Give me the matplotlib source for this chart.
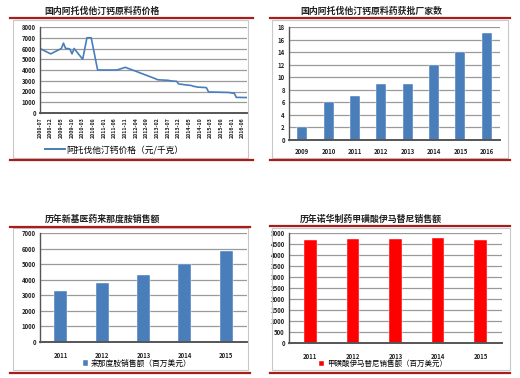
import matplotlib
matplotlib.use("Agg")
import matplotlib.pyplot as plt
from matplotlib.patches import Rectangle
from matplotlib.lines import Line2D
import numpy as np

plt.rcParams['font.family'] = ['Noto Sans CJK SC', 'DejaVu Sans']

# ---------------- data ----------------
price_title = "国内阿托伐他汀钙原料药价格"
price_legend = "阿托伐他汀钙价格（元/千克）"
price_tick_labels = ["2008-07", "2008-12", "2009-05", "2009-10", "2010-03", "2010-08",
                     "2011-01", "2011-06", "2011-11", "2012-04", "2012-09", "2013-02",
                     "2013-07", "2013-12", "2014-05", "2014-10", "2015-03", "2015-08",
                     "2016-01", "2016-06"]
# monthly prices from 2008-07 to 2016-08
price_values = [6000, 5900, 5800, 5700, 5600, 5500, 5600, 5700, 5800, 5900,
                6000, 6500, 6000, 6000, 5950, 5500, 6000, 5750, 5500, 5250,
                5000, 6000, 7000, 7000, 7000, 6000, 5000, 4000, 4000, 4000,
                4000, 4000, 4000, 4000, 4000, 4000, 4000, 4060, 4120, 4190,
                4250, 4170, 4100, 4020, 3950, 3880, 3800, 3720, 3650, 3570,
                3500, 3420, 3350, 3270, 3200, 3100, 3080, 3070, 3060, 3050,
                3040, 3000, 2980, 2960, 2950, 2700, 2680, 2650, 2620, 2600,
                2580, 2550, 2480, 2450, 2400, 2400, 2380, 2380, 2350, 1950,
                1950, 1950, 1940, 1940, 1930, 1930, 1920, 1920, 1910, 1900,
                1850, 1850, 1450, 1450, 1450, 1440, 1440, 1440]

firms_title = "国内阿托伐他汀钙原料药获批厂家数"
firms_years = ["2009", "2010", "2011", "2012", "2013", "2014", "2015", "2016"]
firms_counts = [2, 6, 7, 9, 9, 12, 14, 17]

len_title = "历年新基医药来那度胺销售额"
len_legend = "来那度胺销售额（百万美元）"
len_years = ["2011", "2012", "2013", "2014", "2015"]
len_sales = [3250, 3800, 4300, 5000, 5850]

ima_title = "历年诺华制药甲磺酸伊马替尼销售额"
ima_legend = "甲磺酸伊马替尼销售额（百万美元）"
ima_years = ["2011", "2012", "2013", "2014", "2015"]
ima_sales = [4700, 4720, 4720, 4780, 4700]

# ---------------- layout helpers ----------------
W, H = 520, 378
fig = plt.figure(figsize=(W / 100, H / 100), dpi=100)
fig.patch.set_facecolor("white")

def ax_px(x0, y0, x1, y1):
    return fig.add_axes([x0 / W, 1 - y1 / H, (x1 - x0) / W, (y1 - y0) / H])

def hline(x0, x1, y, color="#a51d1d", lw=1.6):
    fig.add_artist(Line2D([x0 / W, x1 / W], [1 - y / H, 1 - y / H],
                          color=color, lw=lw, transform=fig.transFigure))

def box(x0, y0, x1, y1):
    fig.add_artist(Rectangle((x0 / W, 1 - y1 / H), (x1 - x0) / W, (y1 - y0) / H,
                             fill=False, edgecolor="#c8c8c8", lw=0.8,
                             transform=fig.transFigure))

def title(x, y, s):
    fig.text(x / W, 1 - y / H, s, fontsize=6.4, ha="left", va="center",
             color="#222222", fontweight="bold")

BLUE = "#4a7ebb"
RED = "#ff0000"
GRID = "#9a9a9a"
AXC = "#555555"

def style(ax, ylim, yticks):
    ax.set_ylim(*ylim)
    ax.set_yticks(yticks)
    ax.yaxis.grid(True, color=GRID, lw=0.9)
    ax.set_axisbelow(True)
    for s in ["top", "right"]:
        ax.spines[s].set_visible(False)
    ax.spines["left"].set_color(AXC)
    ax.spines["bottom"].set_color(AXC)
    ax.spines["left"].set_linewidth(1.0)
    ax.spines["bottom"].set_linewidth(1.4)
    ax.tick_params(axis="both", length=0, labelsize=4.3, colors="#222222", pad=3)
    for lab in ax.get_yticklabels() + ax.get_xticklabels():
        lab.set_fontweight("bold")

# ---------------- panel 1: price line ----------------
box(13, 20, 248, 158)
title(44, 11, price_title)
hline(10, 253, 18)
hline(10, 253, 160)
ax1 = ax_px(40, 27, 247, 113)
x1 = np.arange(len(price_values))
ax1.plot(x1, price_values, color=BLUE, lw=1.2)
ax1.set_xlim(0, len(price_values) - 1)
ax1.set_xticks(np.arange(0, 5 * len(price_tick_labels), 5))
ax1.set_xticklabels(price_tick_labels, rotation=90)
style(ax1, (0, 8000), np.arange(0, 8001, 1000))
ax1.tick_params(axis="x", labelsize=3.8)
for lab in ax1.get_xticklabels():
    lab.set_fontweight("bold")
ax1.plot([], [], color=BLUE, lw=1.4, label=price_legend)
ax1.legend(loc="center", bbox_to_anchor=(0.36, -0.43), frameon=False,
           fontsize=6.3, handlelength=2.2, handletextpad=0.2)

# ---------------- panel 2: firms bar ----------------
box(272, 20, 508, 158)
title(300, 11, firms_title)
hline(270, 510, 18)
hline(270, 510, 160)
ax2 = ax_px(289, 27, 500, 140)
ax2.bar(np.arange(len(firms_years)), firms_counts, width=0.38, color=BLUE,
        edgecolor="#ffffff", lw=0.3)
ax2.set_xlim(-0.5, len(firms_years) - 0.5)
ax2.set_xticks(np.arange(len(firms_years)))
ax2.set_xticklabels(firms_years)
style(ax2, (0, 18), np.arange(0, 19, 2))
ax2.tick_params(axis="x", pad=6)

# ---------------- panel 3: lenalidomide ----------------
box(13, 228, 248, 370)
title(45, 219, len_title)
hline(10, 250, 227)
hline(10, 250, 373)
ax3 = ax_px(40, 233, 247, 342)
ax3.bar(np.arange(len(len_years)), len_sales, width=0.31, color=BLUE,
        edgecolor="#ffffff", lw=0.3, label=len_legend)
ax3.set_xlim(-0.5, len(len_years) - 0.5)
ax3.set_xticks(np.arange(len(len_years)))
ax3.set_xticklabels(len_years)
style(ax3, (0, 7000), np.arange(0, 7001, 1000))
ax3.tick_params(axis="x", pad=7)
ax3.legend(loc="center", bbox_to_anchor=(0.47, -0.20), frameon=False,
           fontsize=5.6, handlelength=0.7, handleheight=0.7, handletextpad=0.4)

# ---------------- panel 4: imatinib ----------------
box(272, 228, 510, 370)
title(300, 219, ima_title)
hline(270, 510, 226)
hline(270, 510, 373)
ax4 = ax_px(289, 233, 502, 343)
ax4.bar(np.arange(len(ima_years)), ima_sales, width=0.3, color=RED,
        edgecolor="#ffffff", lw=0.3, label=ima_legend)
ax4.set_xlim(-0.5, len(ima_years) - 0.5)
ax4.set_xticks(np.arange(len(ima_years)))
ax4.set_xticklabels(ima_years)
style(ax4, (0, 5000), np.arange(0, 5001, 500))
ax4.tick_params(axis="x", pad=7)
ax4.legend(loc="center", bbox_to_anchor=(0.44, -0.19), frameon=False,
           fontsize=5.4, handlelength=0.7, handleheight=0.7, handletextpad=0.4)

fig.savefig("out.png", dpi=100, facecolor="white")
